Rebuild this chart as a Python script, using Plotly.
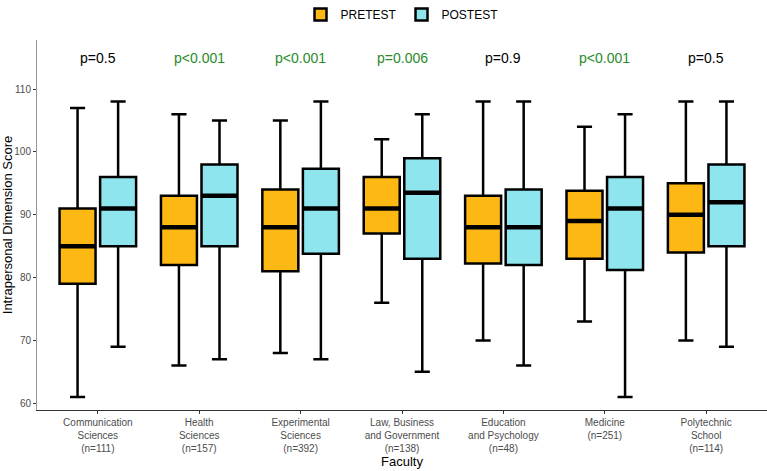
import plotly.graph_objects as go

faculties = ["Communication<br>Sciences<br>(n=111)", "Health<br>Sciences<br>(n=157)",
             "Experimental<br>Sciences<br>(n=392)", "Law, Business<br>and Government<br>(n=138)",
             "Education<br>and Psychology<br>(n=48)", "Medicine<br>(n=251)",
             "Polytechnic<br>School<br>(n=114)"]

pre_low = [61, 66, 68, 76, 70, 73, 70]
pre_q1 = [79, 82, 81, 87, 82.25, 83, 84]
pre_med = [85, 88, 88, 91, 88, 89, 90]
pre_q3 = [91, 93, 94, 96, 93, 93.8, 95]
pre_high = [107, 106, 105, 102, 108, 104, 108]

post_low = [69, 67, 67, 65, 66, 61, 69]
post_q1 = [85, 85, 83.8, 83, 82, 81.2, 85]
post_med = [91, 93, 91, 93.5, 88, 91, 92]
post_q3 = [96, 98, 97.3, 99, 94, 96, 98]
post_high = [108, 105, 108, 106, 108, 106, 108]

p_labels = ["p=0.5", "p<0.001", "p<0.001", "p=0.006", "p=0.9", "p<0.001", "p=0.5"]
p_signif = [False, True, True, True, False, True, False]

PRE_COLOR = "#FDB813"
POST_COLOR = "#8EE5EE"
OFFSET = 0.2
WIDTH = 0.355

idx = list(range(len(faculties)))
fig = go.Figure()

for name, color, sign, low, q1, med, q3, high in [
    ("PRETEST", PRE_COLOR, -1, pre_low, pre_q1, pre_med, pre_q3, pre_high),
    ("POSTEST", POST_COLOR, 1, post_low, post_q1, post_med, post_q3, post_high),
]:
    xs = [i + sign * OFFSET for i in idx]
    fig.add_trace(go.Box(
        name=name, x=xs, q1=q1, median=med, q3=q3, lowerfence=low, upperfence=high,
        width=WIDTH, fillcolor=color, line=dict(color="black", width=2.5),
        whiskerwidth=0.42, boxpoints=False, hoverinfo="skip",
    ))
    # thicker median lines
    mx, my = [], []
    for x, m in zip(xs, med):
        mx += [x - WIDTH / 2, x + WIDTH / 2, None]
        my += [m, m, None]
    fig.add_trace(go.Scatter(x=mx, y=my, mode="lines", line=dict(color="black", width=4.5),
                             showlegend=False, hoverinfo="skip"))

for i, (lab, sig) in enumerate(zip(p_labels, p_signif)):
    fig.add_annotation(x=i, y=115, text=lab, showarrow=False,
                       font=dict(size=14, color="#2A8A2A" if sig else "black",
                                 family="Liberation Sans, Arial"))

fig.add_annotation(x=0.5, xref="paper", y=-0.138, yref="paper", text="Faculty",
                   showarrow=False, yanchor="middle",
                   font=dict(size=13, color="black", family="Liberation Sans, Arial"))

fig.update_layout(
    width=767, height=471,
    margin=dict(l=37, r=0, t=40, b=61),
    plot_bgcolor="white", paper_bgcolor="white",
    boxmode="overlay",
    font=dict(family="Liberation Sans, Arial", color="black"),
    legend=dict(orientation="h", x=0.5, xanchor="center", y=1.0, yanchor="top",
                yref="container", font=dict(size=12), itemwidth=30),
    xaxis=dict(range=[-0.6, 6.6], tickmode="array", tickvals=idx, ticktext=faculties,
               showgrid=False, zeroline=False, showline=True, linecolor="#333333", linewidth=1,
               ticks="outside", ticklen=3, tickcolor="#333333",
               tickfont=dict(size=10, color="#4D4D4D")),
    yaxis=dict(range=[58.93, 117.8], tickvals=[60, 70, 80, 90, 100, 110],
               showgrid=False, zeroline=False, showline=True, linecolor="#9a9a9a", linewidth=1,
               ticks="outside", ticklen=3, tickcolor="#333333",
               tickfont=dict(size=10, color="#4D4D4D"),
               title=dict(text="Intrapersonal Dimension Score", font=dict(size=13), standoff=4)),
)

fig.write_html("out.html")
